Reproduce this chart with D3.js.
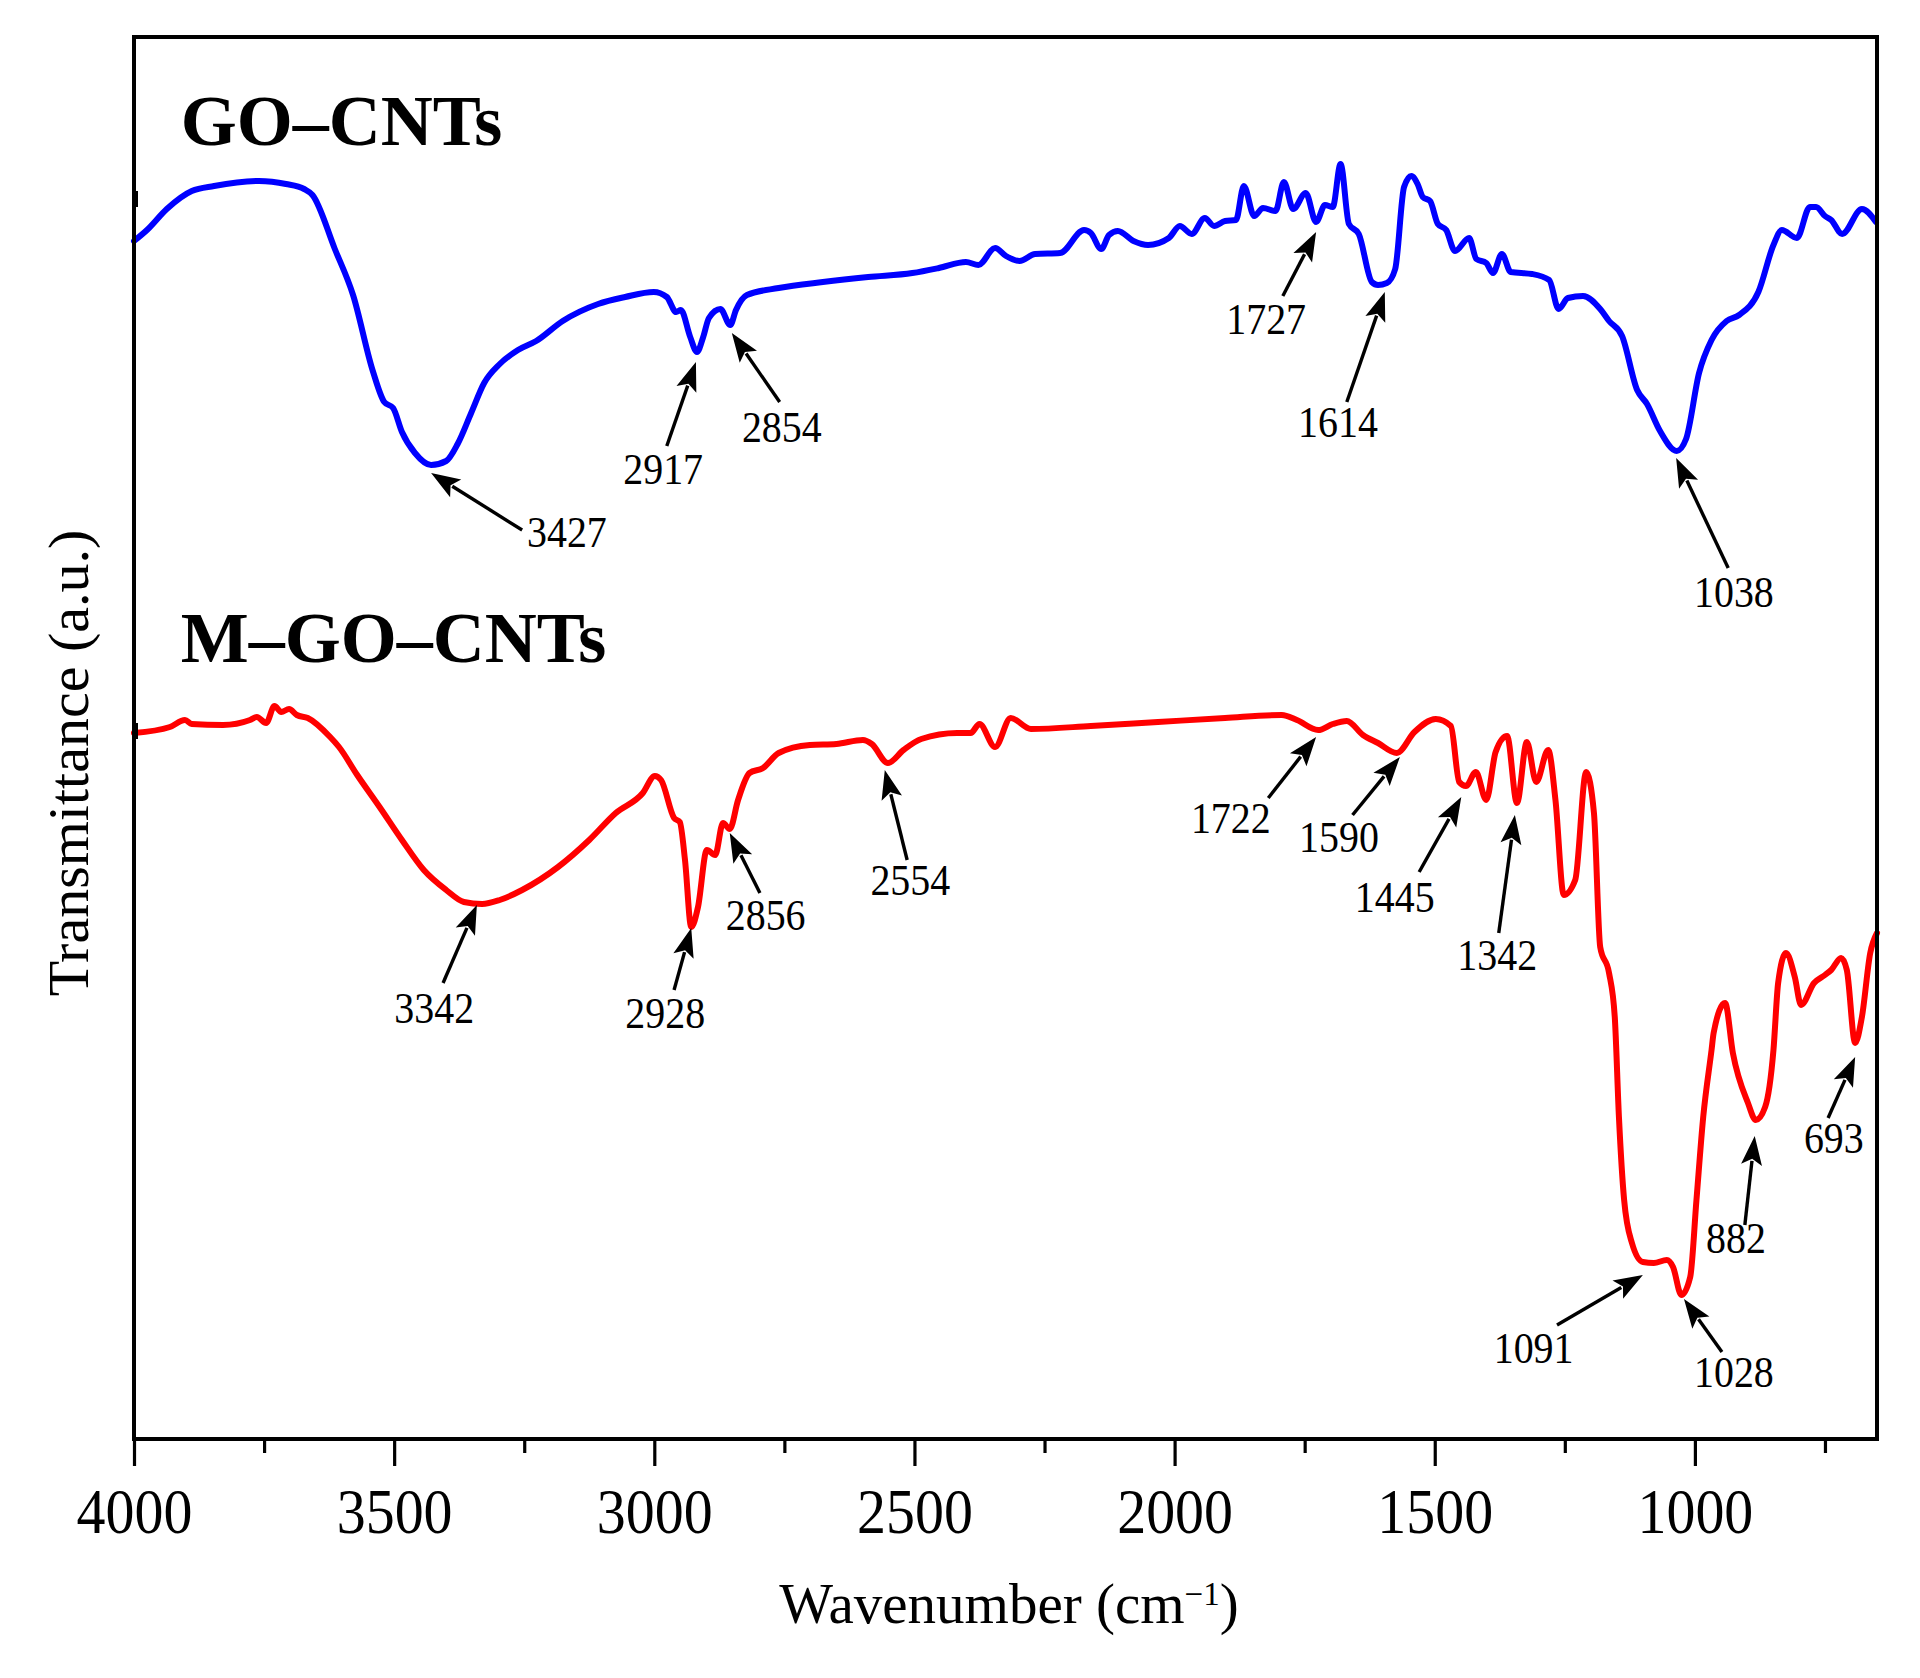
<!DOCTYPE html>
<html><head><meta charset="utf-8">
<script src="https://cdn.jsdelivr.net/npm/d3@7"></script>
<style>body{margin:0;background:#fff}svg{display:block}</style>
</head><body><svg id="chart" width="1920" height="1678"></svg>
<script>
// ---------- data ----------
const xDomain = [4000, 650];
const xTicksMajor = [4000, 3500, 3000, 2500, 2000, 1500, 1000];
const xTicksMinor = [3750, 3250, 2750, 2250, 1750, 1250, 750];
const xTitle = "Wavenumber (cm";
const xTitleSup = "−1";
const yTitle = "Transmittance (a.u.)";
const seriesNames = ["GO–CNTs", "M–GO–CNTs"];
const seriesColors = ["#0000ff", "#ff0000"];
const seriesNamePos = [[3910, 129.4], [3910, 77.7]];

const goWn = [4000,3975,3937,3889,3846,3760,3708,3673,3657,3614,3579,3541,3519,3502,3485,3460,3429,3400,3378,3352,3327,3297,3262,3227,3176,3108,3056,3001,2976,2958,2949,2931,2918,2906,2895,2873,2854,2843,2822,2761,2676,2589,2504,2453,2401,2377,2345,2324,2298,2268,2220,2174,2161,2141,2126,2109,2079,2051,2011,1990,1967,1942,1924,1903,1882,1867,1847,1830,1806,1790,1772,1748,1728,1711,1696,1681,1665,1646,1621,1609,1592,1576,1559,1545,1533,1523,1509,1494,1478,1461,1434,1420,1401,1388,1371,1354,1313,1280,1262,1244,1215,1182,1165,1140,1111,1092,1067,1035,1017,992,968,939,915,878,849,833,804,779,767,750,738,717,679,652];
const goT = [119.8,120.9,123.0,124.8,125.3,125.8,125.5,125.0,124.4,119.0,114.4,106.8,103.7,103.1,100.7,98.6,97.4,97.8,99.5,102.6,105.6,107.5,108.9,109.8,111.8,113.5,114.2,114.7,114.2,112.7,112.9,110.2,108.7,110.2,112.1,113.0,111.4,112.9,114.4,115.1,115.7,116.2,116.6,117.1,117.7,117.4,119.1,118.3,117.8,118.5,118.6,120.9,120.6,119.0,120.4,120.8,119.8,119.4,120.1,121.3,120.5,122.1,121.3,121.8,121.9,125.3,122.3,123.1,122.8,125.7,123.0,124.6,121.7,123.4,123.2,127.5,121.5,120.5,115.7,115.4,115.6,117.0,125.2,126.3,125.5,124.2,123.8,121.5,120.9,118.8,120.1,118.0,117.6,116.6,118.5,116.7,116.5,115.9,113.0,114.1,114.3,113.0,111.8,110.3,104.9,103.5,100.8,98.8,100.0,106.6,109.9,111.8,112.4,114.7,119.4,120.9,120.1,123.2,123.2,122.3,121.9,120.5,123.0,121.7];

const mWn = [4000,3931,3902,3889,3829,3777,3764,3746,3730,3717,3702,3687,3666,3623,3606,3571,3528,3485,3443,3400,3366,3331,3297,3254,3185,3125,3074,3022,2999,2987,2962,2951,2941,2929,2916,2899,2883,2868,2855,2839,2817,2791,2761,2701,2650,2599,2582,2551,2521,2487,2418,2392,2375,2345,2315,2276,2161,2032,1903,1794,1765,1724,1696,1669,1638,1609,1573,1539,1498,1469,1453,1440,1421,1401,1383,1361,1342,1323,1305,1282,1268,1252,1230,1209,1194,1182,1165,1154,1146,1136,1121,1100,1079,1054,1042,1026,1009,997,984,968,964,942,927,898,883,865,849,840,825,808,796,771,750,738,719,708,692,679,663,650];
const mT = [70.6,71.2,71.9,71.5,71.4,71.9,72.2,71.6,73.3,72.7,73.0,72.4,72.1,70.2,69.2,66.4,63.2,59.9,56.9,54.9,53.7,53.5,53.9,54.9,57.2,59.9,62.6,64.6,66.3,65.9,62.1,61.7,57.9,51.2,53.2,58.9,58.4,61.6,61.0,63.9,66.6,67.1,68.6,69.4,69.5,69.9,69.5,67.6,68.9,70.0,70.6,70.6,71.5,69.2,72.1,71.0,71.3,71.7,72.1,72.4,71.9,70.9,71.5,71.8,70.4,69.6,68.6,70.7,72.0,71.3,65.7,65.3,66.7,63.9,68.7,70.3,63.6,69.7,65.7,68.9,63.9,54.4,55.9,66.7,62.6,49.2,46.6,42.2,32.2,23.9,19.6,17.7,17.6,17.9,17.2,14.4,16.2,23.9,32.2,38.9,40.6,43.6,38.6,33.6,31.9,33.2,38.9,45.6,48.6,46.2,43.4,45.6,46.4,46.9,48.1,46.9,39.6,42.2,48.6,50.6];

// peak annotations: label, arrow tip, arrow tail, label anchor (wavenumber, a.u.)
const goPeaks = [
  {label:"3427", tip:[3429,96.6], tail:[3254,90.9], text:[3168,89.2]},
  {label:"2917", tip:[2920,107.7], tail:[2976,99.3], text:[2983,95.5]},
  {label:"2854", tip:[2851,110.6], tail:[2759,103.7], text:[2755,99.7]},
  {label:"1727", tip:[1728,120.7], tail:[1792,114.3], text:[1824,110.5]},
  {label:"1614", tip:[1596,114.7], tail:[1669,103.7], text:[1686,100.2]},
  {label:"1038", tip:[1036,98.1], tail:[936,87.1], text:[925,83.2]}
];
const mPeaks = [
  {label:"3342", tip:[3341,53.4], tail:[3406,45.6], text:[3423,41.6]},
  {label:"2928", tip:[2929,51.1], tail:[2962,44.9], text:[2979,41.1]},
  {label:"2856", tip:[2855,60.6], tail:[2797,54.6], text:[2786,50.9]},
  {label:"2554", tip:[2557,66.9], tail:[2514,57.9], text:[2508,54.4]},
  {label:"1722", tip:[1728,70.2], tail:[1820,64.1], text:[1892,60.6]},
  {label:"1590", tip:[1567,68.2], tail:[1658,62.4], text:[1684,58.7]},
  {label:"1445", tip:[1449,64.2], tail:[1530,56.7], text:[1577,52.7]},
  {label:"1342", tip:[1346,62.4], tail:[1377,50.6], text:[1380,46.9]},
  {label:"1091", tip:[1100,16.4], tail:[1265,11.4], text:[1310,7.6]},
  {label:"1028", tip:[1021,14.0], tail:[948,8.7], text:[925,5.2]},
  {label:"882", tip:[885,30.3], tail:[904,21.4], text:[921,18.6]},
  {label:"693", tip:[692,38.2], tail:[744,32.1], text:[733,28.6]}
];
const yMarks = [124.0, 70.8];

// ---------- layout ----------
const W = 1920, H = 1678;
const L = 134, R = 1877, T = 37, B = 1439;
const serif = "'Liberation Serif','Times New Roman',Times,serif";

const svg = d3.select("#chart");
svg.append("rect").attr("width", W).attr("height", H).attr("fill", "#fff");

const x = d3.scaleLinear().domain(xDomain).range([L, R]);
const y = d3.scaleLinear().domain([0, 140.2]).range([B, T]);

// curves
const line = d3.line().x(d => x(d[0])).y(d => y(d[1])).curve(d3.curveMonotoneX);
const series = [d3.zip(goWn, goT), d3.zip(mWn, mT)];
series.forEach((s, i) => {
  svg.append("path").datum(s).attr("d", line)
    .attr("fill", "none").attr("stroke", seriesColors[i])
    .attr("stroke-width", 6).attr("stroke-linejoin", "round").attr("stroke-linecap", "round");
});

// axes
const gMinor = svg.append("g").attr("transform", `translate(0,${B})`)
  .call(d3.axisBottom(x).tickValues(xTicksMinor).tickSize(14).tickFormat(""));
const gMajor = svg.append("g").attr("transform", `translate(0,${B})`)
  .call(d3.axisBottom(x).tickValues(xTicksMajor).tickSize(27).tickFormat(d3.format("d")));
[gMinor, gMajor].forEach(g => {
  g.select(".domain").remove();
  g.selectAll(".tick line").attr("stroke", "#000").attr("stroke-width", 3.2);
});
gMajor.selectAll(".tick text")
  .attr("y", 94).attr("dy", 0)
  .attr("font-family", serif).attr("font-size", 63).attr("fill", "#000")
  .attr("transform", "scale(0.92,1)");

// left-axis small marks
svg.selectAll(".ymark").data(yMarks).enter().append("line")
  .attr("x1", L).attr("x2", L + 4)
  .attr("y1", d => y(d)).attr("y2", d => y(d))
  .attr("stroke", "#000").attr("stroke-width", 16);

// frame
svg.append("rect").attr("x", L).attr("y", T).attr("width", R - L).attr("height", B - T)
  .attr("fill", "none").attr("stroke", "#000").attr("stroke-width", 4);

// series names
seriesNames.forEach((n, i) => {
  svg.append("text").attr("x", x(seriesNamePos[i][0])).attr("y", y(seriesNamePos[i][1]))
    .attr("font-family", serif).attr("font-weight", "bold").attr("font-size", 72)
    .attr("fill", "#000").text(n);
});

// annotations
function arrow(p) {
  const tx = x(p.tip[0]), ty = y(p.tip[1]);
  const sx = x(p.tail[0]), sy = y(p.tail[1]);
  const dx = tx - sx, dy = ty - sy, len = Math.hypot(dx, dy);
  const ux = dx / len, uy = dy / len, nx = -uy, ny = ux;
  const hl = 29, hw = 10.5;
  const bx = tx - hl * ux, by = ty - hl * uy;
  svg.append("line").attr("x1", sx).attr("y1", sy).attr("x2", bx + 4 * ux).attr("y2", by + 4 * uy)
    .attr("stroke", "#000").attr("stroke-width", 3.4);
  svg.append("path")
    .attr("d", `M${tx},${ty}L${bx + hw * nx},${by + hw * ny}L${bx + 6 * ux},${by + 6 * uy}L${bx - hw * nx},${by - hw * ny}Z`)
    .attr("fill", "#000");
  const lx = x(p.text[0]), ly = y(p.text[1]);
  svg.append("text").attr("transform", `translate(${lx},${ly}) scale(0.95,1.05)`)
    .attr("text-anchor", "middle").attr("font-family", serif).attr("font-size", 42)
    .attr("fill", "#000").text(p.label);
}
goPeaks.forEach(arrow);
mPeaks.forEach(arrow);

// axis titles
const xt = svg.append("text").attr("x", 1009).attr("y", 1623).attr("text-anchor", "middle")
  .attr("font-family", serif).attr("font-size", 57).attr("fill", "#000");
xt.append("tspan").text(xTitle);
xt.append("tspan").attr("dy", -18).attr("font-size", 33).text(xTitleSup);
xt.append("tspan").attr("dy", 18).text(")");

svg.append("text").attr("transform", "translate(88,763) rotate(-90)")
  .attr("text-anchor", "middle").attr("font-family", serif).attr("font-size", 58)
  .attr("fill", "#000").text(yTitle);
</script>
</body></html>
